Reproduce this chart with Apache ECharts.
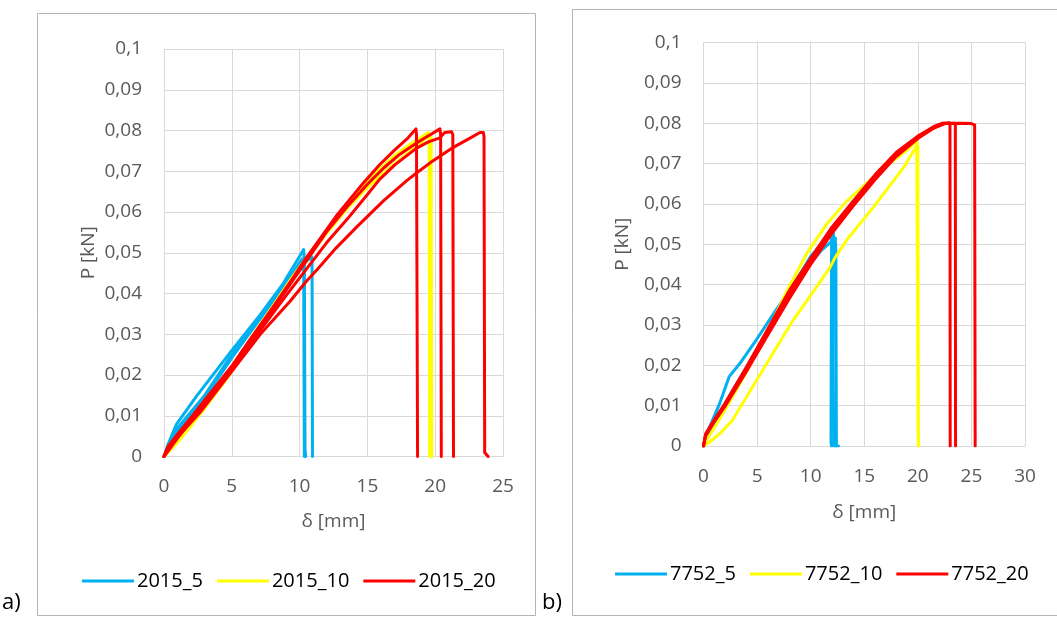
<!DOCTYPE html>
<html>
<head>
<meta charset="utf-8">
<title>P–δ</title>
<script src="https://cdn.jsdelivr.net/npm/echarts@6/dist/echarts.min.js"></script>
<style>
  html, body { margin: 0; padding: 0; background: #fff; }
  #chart { width: 1057px; height: 619px; }
</style>
</head>
<body>
<div id="chart"></div>
<script>
// Load–displacement curves, one array per specimen: [δ mm, P kN]
// Group 2015 (panel a)
const c2015_5a = [[0,0],[0.3,0.003],[0.9,0.0078],[2.4,0.0148],[4.9,0.0256],[7.1,0.0348],[8.8,0.0425],[10.3,0.0508],[10.35,0.048],[10.4,0.002],[10.45,0]];
const c2015_5b = [[0,0],[1,0.0065],[2.9,0.0138],[5,0.0242],[6.3,0.0302],[8,0.0378],[9.8,0.046],[10.9,0.049],[10.92,0.047],[10.95,0]];
const c2015_5c = [[0,0],[1,0.007],[3,0.015],[5,0.025],[7,0.034],[9,0.0428],[10.2,0.0485],[10.3,0.046],[10.35,0]];

const c2015_10a = [[0,0],[0.5,0.0018],[1,0.0038],[2,0.0082],[3,0.0125],[4,0.017],[5,0.0215],[6.3,0.0285],[8,0.0368],[9.5,0.0442],[10.8,0.05],[12,0.0552],[13.4,0.0612],[14.7,0.0665],[15.9,0.0705],[17,0.0738],[18,0.0763],[18.9,0.0782],[19.5,0.0795],[19.55,0.078],[19.6,0]];
const c2015_10b = [[0,0],[1,0.0035],[2,0.0076],[3,0.0118],[5,0.0208],[7,0.031],[9,0.041],[10.5,0.0482],[12,0.0548],[13.5,0.0608],[15,0.066],[16.5,0.0705],[18,0.0745],[19,0.0772],[19.6,0.079],[19.7,0.0785],[19.75,0]];

const c2015_20a = [[0,0],[0.3,0.0025],[1,0.0055],[2,0.0096],[3,0.0138],[4,0.018],[5,0.0222],[6.3,0.0285],[8,0.0365],[9.5,0.0438],[10.5,0.0488],[11.3,0.0525],[12.7,0.059],[14.7,0.0671],[15.9,0.0716],[17,0.0752],[18,0.0782],[18.58,0.0804],[18.62,0.079],[18.7,0]];
const c2015_20b = [[0,0],[0.3,0.0022],[1,0.005],[2,0.0092],[3,0.0134],[5,0.0218],[6.3,0.028],[8,0.036],[9.5,0.0432],[10.5,0.048],[12,0.0552],[13.5,0.0613],[15,0.0668],[16.2,0.0708],[17.4,0.0742],[18.6,0.0769],[19.6,0.0789],[20.35,0.0804],[20.4,0.079],[20.45,0]];
const c2015_20c = [[0,0],[1,0.0045],[3,0.013],[5,0.0215],[7,0.0305],[9,0.0395],[10.5,0.046],[12,0.0525],[13.5,0.0582],[15,0.0643],[15.9,0.068],[17,0.0715],[18.6,0.0756],[19.5,0.0772],[20.35,0.0782],[20.7,0.0795],[21.2,0.0797],[21.3,0.079],[21.35,0]];
const c2015_20d = [[0,0],[0.2,0.0015],[1,0.0048],[2.65,0.0108],[4.9,0.0205],[7.1,0.03],[9.3,0.0381],[10.5,0.043],[11.3,0.0459],[12.7,0.0512],[14.2,0.0563],[16.2,0.0628],[17.9,0.0677],[18.6,0.0695],[19.6,0.072],[21.2,0.0756],[22.5,0.078],[23.3,0.0795],[23.55,0.0795],[23.6,0.0785],[23.65,0.001],[23.9,0]];

// Group 7752 (panel b)
const c7752_5a = [[0,0],[0.3,0.003],[1.5,0.0105],[2.4,0.0172],[3.4,0.0205],[4.9,0.0262],[6.3,0.0318],[8,0.0385],[9.5,0.0445],[10.5,0.0485],[11.4,0.0515],[12.1,0.0539],[12.15,0.051],[12.1,0.02],[12.15,0],[12.6,0]];
const c7752_5b = [[0,0],[1,0.006],[2,0.0105],[4,0.0195],[6,0.0285],[8,0.038],[10,0.047],[11.9,0.0525],[11.95,0.05],[11.9,0.001],[11.95,0]];
const c7752_5c = [[0,0],[1,0.0055],[3,0.0145],[5,0.024],[7,0.033],[9,0.042],[11,0.0485],[12.3,0.0515],[12.35,0.048],[12.4,0]];

const c7752_10a = [[0,0],[0.3,0.0015],[1.8,0.008],[4.2,0.0192],[6,0.0285],[7.8,0.0385],[9.7,0.048],[11.5,0.055],[13.3,0.0605],[15.5,0.0658],[17.7,0.0707],[19.2,0.0738],[19.9,0.0758],[20,0.074],[20.05,0]];
const c7752_10b = [[0,0],[0.5,0.0008],[1.5,0.003],[2.7,0.0064],[3.4,0.0095],[5.8,0.02],[8.2,0.0305],[10.7,0.04],[11.8,0.0442],[11.95,0.0445],[12.1,0.0458],[12.3,0.0468],[13.5,0.0515],[16.1,0.06],[18.8,0.0695],[19.9,0.0745],[20,0.0745],[20.05,0]];

const c7752_20a = [[0,0],[0.2,0.003],[1,0.0065],[2,0.0105],[4,0.0195],[6,0.029],[8,0.0385],[10,0.0465],[12,0.0543],[14,0.0608],[16,0.0672],[18,0.0728],[20,0.0768],[21.5,0.0792],[22.3,0.08],[22.95,0.0801],[23,0.0795],[23.02,0]];
const c7752_20b = [[0,0],[0.2,0.0025],[1,0.006],[2,0.0098],[4,0.0185],[6,0.0275],[8,0.0365],[10,0.045],[12,0.0528],[14,0.0596],[16,0.066],[18,0.0718],[20,0.0762],[21.5,0.0788],[22.5,0.0799],[23.45,0.08],[23.5,0.0795],[23.52,0]];
const c7752_20c = [[0,0],[0.2,0.0028],[1,0.0062],[2,0.0102],[4,0.019],[6,0.028],[8,0.0372],[10,0.0458],[12,0.0535],[14,0.0602],[16,0.0666],[18,0.0723],[20,0.0765],[21.5,0.0789],[22.5,0.0799],[24,0.08],[25,0.0799],[25.3,0.0796],[25.35,0]];

// Legend names and axis ranges
const namesA = ['2015_5', '2015_10', '2015_20'];
const namesB = ['7752_5', '7752_10', '7752_20'];
const xRangeA = [0, 25];
const xRangeB = [0, 30];
const yRange = [0, 0.1];

const COLORS = { blue: '#00B0F0', yellow: '#FFFF00', red: '#FF0000' };
const FONT = 'Open Sans';
const AXIS_GREY = '#595959';
const GRID_GREY = '#d9d9d9';

function curve(name, data, color, idx) {
  return {
    type: 'line', name: name, data: data,
    xAxisIndex: idx, yAxisIndex: idx,
    symbol: 'none', showSymbol: false, smooth: false,
    lineStyle: { color: color, width: 3, cap: 'round', join: 'round' },
    itemStyle: { color: color },
    emphasis: { disabled: true },
    animation: false
  };
}

const fmtY = v => (+v.toFixed(2)).toString().replace('.', ',');

function xAxis(idx, range, gap) {
  return {
    type: 'value', gridIndex: idx, min: range[0], max: range[1], interval: 5,
    name: 'δ [mm]', nameLocation: 'middle', nameGap: gap,
    nameTextStyle: { color: AXIS_GREY, fontSize: 19, fontFamily: FONT },
    axisLine: { show: true, lineStyle: { color: GRID_GREY, width: 1 } },
    axisTick: { show: false },
    axisLabel: { color: AXIS_GREY, fontSize: 19, fontFamily: FONT, margin: 21 },
    splitLine: { show: true, lineStyle: { color: GRID_GREY, width: 1 } }
  };
}
function yAxis(idx, gap) {
  return {
    type: 'value', gridIndex: idx, min: yRange[0], max: yRange[1], interval: 0.01,
    name: 'P [kN]', nameLocation: 'middle', nameGap: gap, nameRotate: 90,
    nameTextStyle: { color: AXIS_GREY, fontSize: 19, fontFamily: FONT },
    axisLine: { show: true, lineStyle: { color: GRID_GREY, width: 1 } },
    axisTick: { show: false },
    axisLabel: { color: AXIS_GREY, fontSize: 19, fontFamily: FONT, margin: 22, formatter: fmtY },
    splitLine: { show: true, lineStyle: { color: GRID_GREY, width: 1 } }
  };
}
function legend(names, left, top) {
  return {
    data: names, left: left, top: top, orient: 'horizontal',
    icon: 'rect', itemWidth: 52, itemHeight: 3, itemGap: 14,
    textStyle: { color: '#000', fontSize: 20, fontFamily: FONT, padding: [0, 0, 0, -2] },
    selectedMode: false
  };
}

const series = [
  curve(namesA[0], c2015_5a, COLORS.blue, 0),
  curve(namesA[0], c2015_5b, COLORS.blue, 0),
  curve(namesA[0], c2015_5c, COLORS.blue, 0),
  curve(namesA[1], c2015_10a, COLORS.yellow, 0),
  curve(namesA[1], c2015_10b, COLORS.yellow, 0),
  curve(namesA[2], c2015_20a, COLORS.red, 0),
  curve(namesA[2], c2015_20b, COLORS.red, 0),
  curve(namesA[2], c2015_20c, COLORS.red, 0),
  curve(namesA[2], c2015_20d, COLORS.red, 0),
  curve(namesB[0], c7752_5a, COLORS.blue, 1),
  curve(namesB[0], c7752_5b, COLORS.blue, 1),
  curve(namesB[0], c7752_5c, COLORS.blue, 1),
  curve(namesB[1], c7752_10a, COLORS.yellow, 1),
  curve(namesB[1], c7752_10b, COLORS.yellow, 1),
  curve(namesB[2], c7752_20a, COLORS.red, 1),
  curve(namesB[2], c7752_20b, COLORS.red, 1),
  curve(namesB[2], c7752_20c, COLORS.red, 1)
];

const chart = echarts.init(document.getElementById('chart'), null, { renderer: 'canvas' });
chart.setOption({
  backgroundColor: '#ffffff',
  animation: false,
  grid: [
    { left: 164, top: 49, width: 339, height: 407.5 },
    { left: 703.5, top: 42.5, width: 321.5, height: 403.5 }
  ],
  xAxis: [xAxis(0, xRangeA, 56), xAxis(1, xRangeB, 57)],
  yAxis: [yAxis(0, 66), yAxis(1, 71)],
  legend: [legend(namesA, 77, 566), legend(namesB, 610, 559)],
  graphic: [
    { type: 'rect', silent: true, z: -1, shape: { x: 37.5, y: 13.5, width: 498, height: 602 },
      style: { fill: null, stroke: '#b4b4b4', lineWidth: 1 } },
    { type: 'rect', silent: true, z: -1, shape: { x: 572.5, y: 9.5, width: 500, height: 606 },
      style: { fill: null, stroke: '#b4b4b4', lineWidth: 1 } },
    { type: 'text', left: 2, top: 592, style: { text: 'a)', fill: '#000', font: '22px "Open Sans"' } },
    { type: 'text', left: 542, top: 592, style: { text: 'b)', fill: '#000', font: '22px "Open Sans"' } }
  ],
  series: series
});
</script>
</body>
</html>
